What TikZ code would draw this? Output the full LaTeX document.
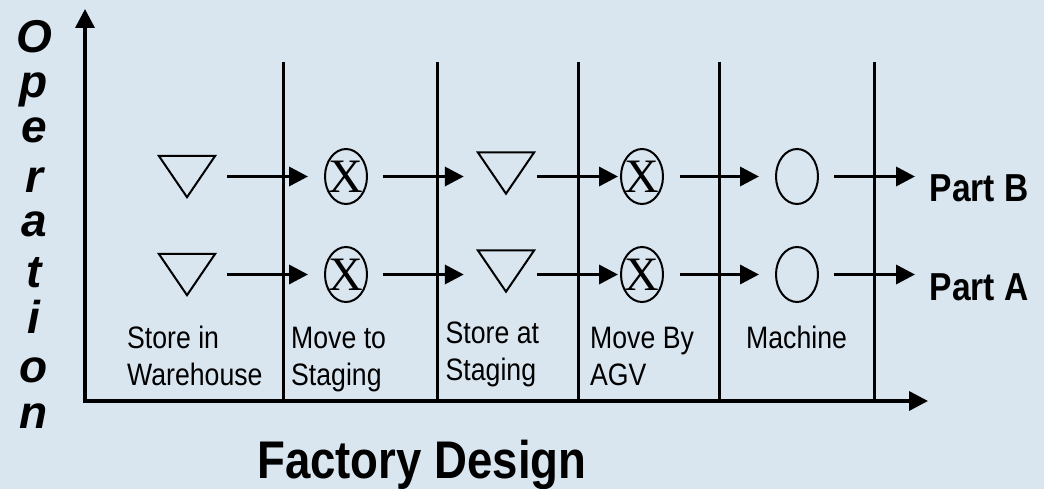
\documentclass[tikz,border=0pt]{standalone}
\usepackage{fontspec}
\setmainfont{Liberation Sans}[FakeStretch=0.86]
\newfontfamily\opfont{Liberation Sans}
\newfontfamily\crossfont{Liberation Serif}
\usetikzlibrary{arrows.meta,shapes.geometric}
\definecolor{panel}{RGB}{217,230,240}

\begin{document}
\begin{tikzpicture}[x=1pt,y=-1pt,
  tip/.tip={Triangle[length=19pt,width=19pt]},
  conn/.style={line width=3.5pt,-tip},
  axisline/.style={line width=3.5pt,tip-tip,line join=miter},
  divider/.style={line width=3pt},
  storebox/.style={minimum width=56pt,minimum height=41pt,inner sep=0pt},
  storeedge/.style={line width=2pt,line join=miter},
  opshape/.style={ellipse,draw,line width=2pt,minimum width=42pt,minimum height=55pt,inner sep=0pt},
  movenode/.style={opshape,label={[font=\crossfont\fontsize{48}{48}\selectfont,inner sep=0pt]center:X}},
  steplabel/.style={font=\fontsize{31}{37}\selectfont,align=left,anchor=base west,inner sep=0pt},
  partlabel/.style={font=\fontsize{39}{45}\selectfont\bfseries,anchor=base west,inner sep=0pt},
]
% background and page size
\fill[panel] (0,0) rectangle (1044,489);
\useasboundingbox (0,0) rectangle (1044,489);

% axes
\coordinate (origin) at (85,401);
\coordinate (ytip) at (85,9);
\coordinate (xtip) at (928,401);
\draw[axisline] (ytip) -- (origin) -- (xtip);

% column dividers
\foreach \x in {283,437,578,719,874}
  \draw[divider] (\x,62) -- (\x,401);

% process symbols, two rows
\foreach \r/\y in {b/176.5,a/274.5}{
  \node[storebox] (s1\r) at (187,\y) {};
  \node[movenode] (m2\r) at (346,\y) {};
  \node[storebox] (s3\r) at (506,\y-3.5) {};
  \node[movenode] (m4\r) at (642,\y) {};
  \node[opshape]  (o5\r) at (797,\y) {};
  \draw[storeedge] (s1\r.north west) -- (s1\r.north east) -- (s1\r.south) -- cycle;
  \draw[storeedge] (s3\r.north west) -- (s3\r.north east) -- (s3\r.south) -- cycle;
}

% part names
\node[partlabel] (pb) at (929.5,202) {Part B};
\node[partlabel] (pa) at (929.5,300) {Part A};

% flow connectors
\foreach \r/\p in {b/pb,a/pa}{
  \draw[conn,shorten <=12pt,shorten >=16pt] (s1\r) -- (m2\r);
  \draw[conn,shorten <=15pt,shorten >=14pt] (m2\r) -- (m2\r -| s3\r.west);
  \draw[conn,shorten <=3pt,shorten >=2pt] (s3\r.east |- m4\r) -- (m4\r);
  \draw[conn,shorten <=16pt,shorten >=16pt] (m4\r) -- (o5\r);
  \draw[conn,shorten <=15pt,shorten >=14.5pt] (o5\r) -- (o5\r -| \p.west);
}

% column captions (base anchor sits on the last line)
\node[steplabel] (c1) at (127,385) {Store in\\Warehouse};
\node[steplabel] (c2) at (291,385) {Move to\\Staging};
\node[steplabel] (c3) at (445.5,380) {Store at\\Staging};
\node[steplabel] (c4) at (590,385) {Move By\\AGV};
\node[steplabel] (c5) at (746,348) {Machine};

% axis titles
\node[font=\fontsize{53}{60}\selectfont\bfseries,anchor=base west,inner sep=0pt] (xtitle) at (257,478) {Factory Design};
\node[font=\opfont\fontsize{46}{47}\selectfont\bfseries\itshape,align=center,anchor=base,inner sep=0pt] (ytitle) at (34,428)
  {O\\[-2pt]p\\[-2pt]e\\[3pt]r\\[-3pt]a\\[4pt]t\\[-1pt]i\\[2pt]o\\[-1pt]n};
\end{tikzpicture}
\end{document}
